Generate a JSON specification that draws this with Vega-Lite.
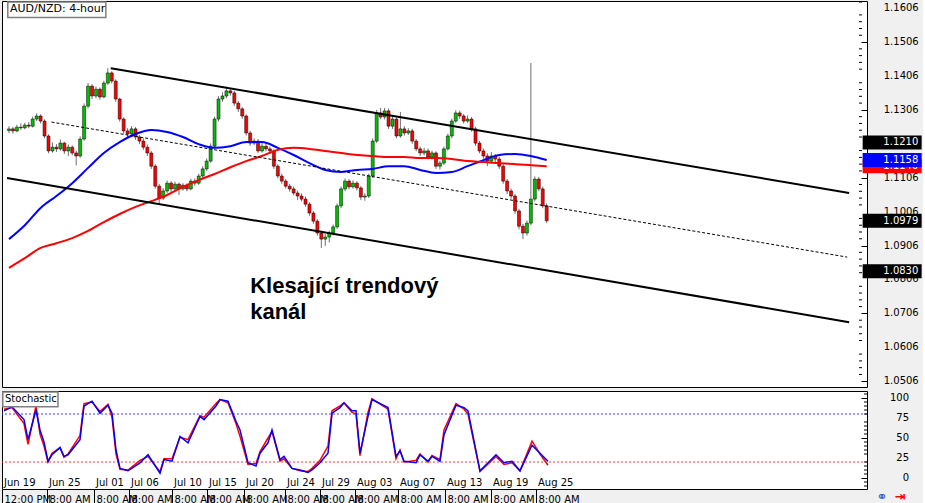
{
"$schema":"https://vega.github.io/schema/vega-lite/v6.json",
"background":"#f0f0f0",
"padding":0,
"autosize":{"type":"pad"},
"spacing":2,
"config":{"view":{"stroke":"#000000","fill":"#ffffff","strokeWidth":1},"font":"DejaVu Sans","axis":{"labelFont":"DejaVu Sans","labelFontSize":10,"labelColor":"#000000","grid":false,"domain":false,"tickColor":"#000000","labelOverlap":false}},
"datasets":{
"candles":[
{"i":0,"o":1.1245,"h":1.1258,"l":1.1238,"c":1.1250},
{"i":1,"o":1.1250,"h":1.1256,"l":1.1236,"c":1.1244},
{"i":2,"o":1.1244,"h":1.1262,"l":1.1240,"c":1.1255},
{"i":3,"o":1.1255,"h":1.1266,"l":1.1247,"c":1.1253},
{"i":4,"o":1.1253,"h":1.1268,"l":1.1249,"c":1.1261},
{"i":5,"o":1.1261,"h":1.1270,"l":1.1252,"c":1.1258},
{"i":6,"o":1.1258,"h":1.1286,"l":1.1254,"c":1.1279},
{"i":7,"o":1.1279,"h":1.1296,"l":1.1273,"c":1.1288},
{"i":8,"o":1.1288,"h":1.1293,"l":1.1266,"c":1.1273},
{"i":9,"o":1.1273,"h":1.1278,"l":1.1222,"c":1.1229},
{"i":10,"o":1.1229,"h":1.1234,"l":1.1178,"c":1.1185},
{"i":11,"o":1.1185,"h":1.1210,"l":1.1180,"c":1.1196},
{"i":12,"o":1.1196,"h":1.1205,"l":1.1182,"c":1.1191},
{"i":13,"o":1.1191,"h":1.1219,"l":1.1186,"c":1.1208},
{"i":14,"o":1.1208,"h":1.1212,"l":1.1176,"c":1.1185},
{"i":15,"o":1.1185,"h":1.1204,"l":1.1170,"c":1.1196},
{"i":16,"o":1.1196,"h":1.1201,"l":1.1172,"c":1.1179},
{"i":17,"o":1.1179,"h":1.1186,"l":1.1142,"c":1.1170},
{"i":18,"o":1.1170,"h":1.1228,"l":1.1165,"c":1.1220},
{"i":19,"o":1.1220,"h":1.1325,"l":1.1215,"c":1.1317},
{"i":20,"o":1.1317,"h":1.1385,"l":1.1310,"c":1.1376},
{"i":21,"o":1.1376,"h":1.1382,"l":1.1338,"c":1.1347},
{"i":22,"o":1.1347,"h":1.1375,"l":1.1340,"c":1.1367},
{"i":23,"o":1.1367,"h":1.1372,"l":1.1336,"c":1.1344},
{"i":24,"o":1.1344,"h":1.1392,"l":1.1340,"c":1.1385},
{"i":25,"o":1.1385,"h":1.1429,"l":1.1380,"c":1.1415},
{"i":26,"o":1.1415,"h":1.1420,"l":1.1384,"c":1.1391},
{"i":27,"o":1.1391,"h":1.1396,"l":1.1330,"c":1.1338},
{"i":28,"o":1.1338,"h":1.1342,"l":1.1272,"c":1.1279},
{"i":29,"o":1.1279,"h":1.1284,"l":1.1236,"c":1.1244},
{"i":30,"o":1.1244,"h":1.1252,"l":1.1226,"c":1.1235},
{"i":31,"o":1.1235,"h":1.1258,"l":1.1228,"c":1.1250},
{"i":32,"o":1.1250,"h":1.1255,"l":1.1218,"c":1.1226},
{"i":33,"o":1.1226,"h":1.1232,"l":1.1205,"c":1.1214},
{"i":34,"o":1.1214,"h":1.1222,"l":1.1188,"c":1.1196},
{"i":35,"o":1.1196,"h":1.1204,"l":1.1170,"c":1.1179},
{"i":36,"o":1.1179,"h":1.1185,"l":1.1132,"c":1.1140},
{"i":37,"o":1.1140,"h":1.1146,"l":1.1074,"c":1.1081},
{"i":38,"o":1.1081,"h":1.1088,"l":1.1028,"c":1.1046},
{"i":39,"o":1.1046,"h":1.1075,"l":1.1040,"c":1.1067},
{"i":40,"o":1.1067,"h":1.1098,"l":1.1060,"c":1.1090},
{"i":41,"o":1.1090,"h":1.1096,"l":1.1064,"c":1.1073},
{"i":42,"o":1.1073,"h":1.1094,"l":1.1066,"c":1.1087},
{"i":43,"o":1.1087,"h":1.1092,"l":1.1055,"c":1.1073},
{"i":44,"o":1.1073,"h":1.1090,"l":1.1068,"c":1.1084},
{"i":45,"o":1.1084,"h":1.1089,"l":1.1066,"c":1.1073},
{"i":46,"o":1.1073,"h":1.1103,"l":1.1069,"c":1.1096},
{"i":47,"o":1.1096,"h":1.1104,"l":1.1082,"c":1.1090},
{"i":48,"o":1.1090,"h":1.1118,"l":1.1085,"c":1.1111},
{"i":49,"o":1.1111,"h":1.1140,"l":1.1106,"c":1.1132},
{"i":50,"o":1.1132,"h":1.1163,"l":1.1126,"c":1.1155},
{"i":51,"o":1.1155,"h":1.1207,"l":1.1150,"c":1.1199},
{"i":52,"o":1.1199,"h":1.1286,"l":1.1194,"c":1.1279},
{"i":53,"o":1.1279,"h":1.1346,"l":1.1272,"c":1.1338},
{"i":54,"o":1.1338,"h":1.1358,"l":1.1330,"c":1.1347},
{"i":55,"o":1.1347,"h":1.1375,"l":1.1340,"c":1.1362},
{"i":56,"o":1.1362,"h":1.1368,"l":1.1348,"c":1.1356},
{"i":57,"o":1.1356,"h":1.1362,"l":1.1318,"c":1.1326},
{"i":58,"o":1.1326,"h":1.1332,"l":1.1300,"c":1.1309},
{"i":59,"o":1.1309,"h":1.1314,"l":1.1280,"c":1.1288},
{"i":60,"o":1.1288,"h":1.1293,"l":1.1230,"c":1.1238},
{"i":61,"o":1.1238,"h":1.1244,"l":1.1200,"c":1.1208},
{"i":62,"o":1.1208,"h":1.1222,"l":1.1202,"c":1.1214},
{"i":63,"o":1.1214,"h":1.1220,"l":1.1178,"c":1.1185},
{"i":64,"o":1.1185,"h":1.1210,"l":1.1180,"c":1.1199},
{"i":65,"o":1.1199,"h":1.1206,"l":1.1184,"c":1.1191},
{"i":66,"o":1.1191,"h":1.1198,"l":1.1176,"c":1.1185},
{"i":67,"o":1.1185,"h":1.1190,"l":1.1132,"c":1.1140},
{"i":68,"o":1.1140,"h":1.1146,"l":1.1104,"c":1.1111},
{"i":69,"o":1.1111,"h":1.1118,"l":1.1088,"c":1.1096},
{"i":70,"o":1.1096,"h":1.1102,"l":1.1074,"c":1.1081},
{"i":71,"o":1.1081,"h":1.1088,"l":1.1065,"c":1.1073},
{"i":72,"o":1.1073,"h":1.1080,"l":1.1054,"c":1.1061},
{"i":73,"o":1.1061,"h":1.1068,"l":1.1040,"c":1.1052},
{"i":74,"o":1.1052,"h":1.1060,"l":1.1036,"c":1.1043},
{"i":75,"o":1.1043,"h":1.1050,"l":1.1020,"c":1.1028},
{"i":76,"o":1.1028,"h":1.1034,"l":1.0994,"c":1.1002},
{"i":77,"o":1.1002,"h":1.1008,"l":1.0970,"c":1.0978},
{"i":78,"o":1.0978,"h":1.0984,"l":1.0935,"c":1.0943},
{"i":79,"o":1.0943,"h":1.0950,"l":1.0899,"c":1.0925},
{"i":80,"o":1.0925,"h":1.0940,"l":1.0905,"c":1.0931},
{"i":81,"o":1.0931,"h":1.0950,"l":1.0915,"c":1.0943},
{"i":82,"o":1.0943,"h":1.0968,"l":1.0936,"c":1.0961},
{"i":83,"o":1.0961,"h":1.1030,"l":1.0955,"c":1.1023},
{"i":84,"o":1.1023,"h":1.1080,"l":1.1016,"c":1.1073},
{"i":85,"o":1.1073,"h":1.1104,"l":1.1066,"c":1.1096},
{"i":86,"o":1.1096,"h":1.1102,"l":1.1072,"c":1.1079},
{"i":87,"o":1.1079,"h":1.1098,"l":1.1074,"c":1.1090},
{"i":88,"o":1.1090,"h":1.1096,"l":1.1068,"c":1.1076},
{"i":89,"o":1.1076,"h":1.1082,"l":1.1040,"c":1.1049},
{"i":90,"o":1.1049,"h":1.1060,"l":1.1038,"c":1.1052},
{"i":91,"o":1.1052,"h":1.1118,"l":1.1046,"c":1.1111},
{"i":92,"o":1.1111,"h":1.1222,"l":1.1105,"c":1.1214},
{"i":93,"o":1.1214,"h":1.1306,"l":1.1208,"c":1.1297},
{"i":94,"o":1.1297,"h":1.1312,"l":1.1278,"c":1.1285},
{"i":95,"o":1.1285,"h":1.1312,"l":1.1278,"c":1.1303},
{"i":96,"o":1.1303,"h":1.1310,"l":1.1250,"c":1.1258},
{"i":97,"o":1.1258,"h":1.1288,"l":1.1250,"c":1.1279},
{"i":98,"o":1.1279,"h":1.1284,"l":1.1222,"c":1.1229},
{"i":99,"o":1.1229,"h":1.1300,"l":1.1224,"c":1.1250},
{"i":100,"o":1.1250,"h":1.1258,"l":1.1230,"c":1.1238},
{"i":101,"o":1.1238,"h":1.1252,"l":1.1232,"c":1.1244},
{"i":102,"o":1.1244,"h":1.1250,"l":1.1206,"c":1.1214},
{"i":103,"o":1.1214,"h":1.1220,"l":1.1184,"c":1.1191},
{"i":104,"o":1.1191,"h":1.1198,"l":1.1170,"c":1.1179},
{"i":105,"o":1.1179,"h":1.1194,"l":1.1172,"c":1.1185},
{"i":106,"o":1.1185,"h":1.1192,"l":1.1160,"c":1.1167},
{"i":107,"o":1.1167,"h":1.1186,"l":1.1160,"c":1.1179},
{"i":108,"o":1.1179,"h":1.1184,"l":1.1132,"c":1.1140},
{"i":109,"o":1.1140,"h":1.1156,"l":1.1130,"c":1.1149},
{"i":110,"o":1.1149,"h":1.1198,"l":1.1144,"c":1.1191},
{"i":111,"o":1.1191,"h":1.1236,"l":1.1186,"c":1.1229},
{"i":112,"o":1.1229,"h":1.1280,"l":1.1222,"c":1.1273},
{"i":113,"o":1.1273,"h":1.1305,"l":1.1268,"c":1.1297},
{"i":114,"o":1.1297,"h":1.1304,"l":1.1280,"c":1.1288},
{"i":115,"o":1.1288,"h":1.1294,"l":1.1266,"c":1.1273},
{"i":116,"o":1.1273,"h":1.1290,"l":1.1268,"c":1.1279},
{"i":117,"o":1.1279,"h":1.1285,"l":1.1242,"c":1.1250},
{"i":118,"o":1.1250,"h":1.1256,"l":1.1200,"c":1.1208},
{"i":119,"o":1.1208,"h":1.1214,"l":1.1178,"c":1.1185},
{"i":120,"o":1.1185,"h":1.1192,"l":1.1162,"c":1.1170},
{"i":121,"o":1.1170,"h":1.1178,"l":1.1140,"c":1.1155},
{"i":122,"o":1.1155,"h":1.1182,"l":1.1148,"c":1.1170},
{"i":123,"o":1.1170,"h":1.1176,"l":1.1150,"c":1.1161},
{"i":124,"o":1.1161,"h":1.1168,"l":1.1132,"c":1.1140},
{"i":125,"o":1.1140,"h":1.1146,"l":1.1088,"c":1.1096},
{"i":126,"o":1.1096,"h":1.1102,"l":1.1058,"c":1.1067},
{"i":127,"o":1.1067,"h":1.1074,"l":1.1044,"c":1.1052},
{"i":128,"o":1.1052,"h":1.1058,"l":1.1000,"c":1.1008},
{"i":129,"o":1.1008,"h":1.1014,"l":1.0954,"c":1.0963},
{"i":130,"o":1.0963,"h":1.0970,"l":1.0925,"c":1.0943},
{"i":131,"o":1.0943,"h":1.0980,"l":1.0935,"c":1.0972},
{"i":132,"o":1.0972,"h":1.1444,"l":1.0966,"c":1.1043},
{"i":133,"o":1.1043,"h":1.1110,"l":1.1036,"c":1.1102},
{"i":134,"o":1.1102,"h":1.1108,"l":1.1066,"c":1.1073},
{"i":135,"o":1.1073,"h":1.1080,"l":1.1016,"c":1.1023},
{"i":136,"o":1.1023,"h":1.1030,"l":1.0972,"c":1.0979}
],
"ma":[
{"i":0,"b":1.0925,"r":1.0840},{"i":4,"b":1.0966,"r":1.0869},{"i":8,"b":1.1017,"r":1.0899},{"i":12,"b":1.1052,"r":1.0913},
{"i":16,"b":1.1090,"r":1.0928},{"i":20,"b":1.1135,"r":1.0949},{"i":24,"b":1.1179,"r":1.0975},{"i":28,"b":1.1211,"r":1.0999},
{"i":32,"b":1.1235,"r":1.1020},{"i":36,"b":1.1247,"r":1.1037},{"i":40,"b":1.1241,"r":1.1055},{"i":44,"b":1.1226,"r":1.1079},
{"i":48,"b":1.1205,"r":1.1099},{"i":52,"b":1.1194,"r":1.1117},{"i":56,"b":1.1199,"r":1.1137},{"i":60,"b":1.1211,"r":1.1155},
{"i":64,"b":1.1211,"r":1.1170},{"i":68,"b":1.1194,"r":1.1188},{"i":72,"b":1.1173,"r":1.1194},{"i":76,"b":1.1149,"r":1.1191},
{"i":80,"b":1.1129,"r":1.1185},{"i":84,"b":1.1123,"r":1.1179},{"i":88,"b":1.1129,"r":1.1173},{"i":92,"b":1.1132,"r":1.1170},
{"i":96,"b":1.1140,"r":1.1167},{"i":100,"b":1.1140,"r":1.1167},{"i":104,"b":1.1129,"r":1.1164},{"i":108,"b":1.1120,"r":1.1164},
{"i":112,"b":1.1123,"r":1.1161},{"i":116,"b":1.1140,"r":1.1155},{"i":120,"b":1.1158,"r":1.1152},{"i":124,"b":1.1173,"r":1.1149},
{"i":128,"b":1.1176,"r":1.1146},{"i":132,"b":1.1170,"r":1.1143},{"i":136,"b":1.1158,"r":1.1140}
],
"chan":[{"g":"u","i":25.75,"p":1.1429},{"g":"u","i":212.5,"p":1.1061},{"g":"l","i":-0.5,"p":1.1105},{"g":"l","i":212.5,"p":1.0680}],
"mid":[{"i":10.75,"p":1.1270},{"i":212,"p":1.0872}],
"tags":[{"kind":"ma200","p":1.1140,"label":"1.1140"},{"kind":"ma100","p":1.1158,"label":"1.1158"},{"kind":"line","p":1.1210,"label":"1.1210"},{"kind":"line","p":1.0979,"label":"1.0979"},{"kind":"line","p":1.0830,"label":"1.0830"}],
"pmajor":[{"v":1.0506},{"v":1.0606},{"v":1.0706},{"v":1.0806},{"v":1.0906},{"v":1.1006},{"v":1.1106},{"v":1.1206},{"v":1.1306},{"v":1.1406},{"v":1.1506},{"v":1.1606}],
"pminor":[{"v":1.0526},{"v":1.0546},{"v":1.0566},{"v":1.0586},{"v":1.0626},{"v":1.0646},{"v":1.0666},{"v":1.0686},{"v":1.0726},{"v":1.0746},{"v":1.0766},{"v":1.0786},{"v":1.0826},{"v":1.0846},{"v":1.0866},{"v":1.0886},{"v":1.0926},{"v":1.0946},{"v":1.0966},{"v":1.0986},{"v":1.1026},{"v":1.1046},{"v":1.1066},{"v":1.1086},{"v":1.1126},{"v":1.1146},{"v":1.1166},{"v":1.1186},{"v":1.1226},{"v":1.1246},{"v":1.1266},{"v":1.1286},{"v":1.1326},{"v":1.1346},{"v":1.1366},{"v":1.1386},{"v":1.1426},{"v":1.1446},{"v":1.1466},{"v":1.1486},{"v":1.1526},{"v":1.1546},{"v":1.1566},{"v":1.1586},{"v":1.1624}],
"smajor":[{"v":0},{"v":25},{"v":50},{"v":75},{"v":100}],
"sminor":[{"v":5},{"v":10},{"v":15},{"v":20},{"v":30},{"v":35},{"v":40},{"v":45},{"v":55},{"v":60},{"v":65},{"v":70},{"v":80},{"v":85},{"v":90},{"v":95},{"v":-5},{"v":-10},{"v":105}],
"stoch":[
{"i":0,"k":86,"d":84},{"i":2,"k":88,"d":89},{"i":5,"k":68,"d":73},{"i":6,"k":42,"d":48},{"i":8,"k":90,"d":85},{"i":9,"k":55,"d":60},
{"i":10,"k":40,"d":45},{"i":11,"k":20,"d":21},{"i":12,"k":31,"d":29},{"i":14,"k":38,"d":38},{"i":15,"k":26,"d":27},{"i":16,"k":30,"d":29},
{"i":19,"k":53,"d":48},{"i":20,"k":93,"d":90},{"i":22,"k":95,"d":96},{"i":24,"k":83,"d":81},{"i":26,"k":92,"d":91},{"i":27,"k":76,"d":81},
{"i":28,"k":30,"d":35},{"i":29,"k":11,"d":12},{"i":31,"k":10,"d":9},{"i":34,"k":22,"d":19},{"i":36,"k":27,"d":29},{"i":39,"k":8,"d":6},
{"i":40,"k":24,"d":23},{"i":42,"k":24,"d":21},{"i":44,"k":51,"d":52},{"i":46,"k":48,"d":44},{"i":49,"k":78,"d":77},{"i":50,"k":76,"d":73},
{"i":53,"k":93,"d":90},{"i":54,"k":98,"d":98},{"i":56,"k":94,"d":96},{"i":58,"k":68,"d":71},{"i":59,"k":52,"d":60},{"i":61,"k":17,"d":19},
{"i":63,"k":18,"d":15},{"i":64,"k":33,"d":31},{"i":66,"k":50,"d":44},{"i":67,"k":58,"d":60},{"i":69,"k":21,"d":23},{"i":70,"k":24,"d":27},
{"i":72,"k":12,"d":12},{"i":74,"k":9,"d":10},{"i":76,"k":8,"d":7},{"i":77,"k":12,"d":10},{"i":79,"k":22,"d":19},{"i":81,"k":40,"d":31},
{"i":82,"k":84,"d":81},{"i":84,"k":90,"d":88},{"i":85,"k":94,"d":94},{"i":87,"k":82,"d":84},{"i":88,"k":80,"d":84},{"i":89,"k":28,"d":31},
{"i":91,"k":82,"d":77},{"i":92,"k":99,"d":98},{"i":96,"k":86,"d":88},{"i":98,"k":24,"d":27},{"i":99,"k":35,"d":34},{"i":100,"k":20,"d":21},
{"i":103,"k":22,"d":19},{"i":104,"k":30,"d":29},{"i":106,"k":20,"d":21},{"i":107,"k":28,"d":27},{"i":109,"k":23,"d":21},{"i":110,"k":60,"d":54},
{"i":113,"k":93,"d":91},{"i":115,"k":86,"d":88},{"i":116,"k":80,"d":84},{"i":119,"k":8,"d":9},{"i":123,"k":27,"d":29},{"i":125,"k":17,"d":19},
{"i":127,"k":19,"d":21},{"i":129,"k":9,"d":9},{"i":132,"k":46,"d":41},{"i":134,"k":30,"d":31},{"i":136,"k":16,"d":21}
],
"levels":[{"v":80,"g":"hi"},{"v":20,"g":"lo"}],
"dates":[{"i":-0.5,"lab":"Jun 19"},{"i":10.75,"lab":"Jun 25"},{"i":22.5,"lab":"Jul 01"},{"i":31.25,"lab":"Jul 06"},{"i":42,"lab":"Jul 10"},{"i":50.75,"lab":"Jul 15"},{"i":60,"lab":"Jul 20"},{"i":70.25,"lab":"Jul 24"},{"i":79,"lab":"Jul 29"},{"i":87.75,"lab":"Aug 03"},{"i":98.5,"lab":"Aug 07"},{"i":110.25,"lab":"Aug 13"},{"i":121.75,"lab":"Aug 19"},{"i":133,"lab":"Aug 25"}],
"one":[{}]
},
"vconcat":[
{
"width":865,"height":386,
"layer":[
{"data":{"name":"candles"},"mark":{"type":"rule","color":"#707070","strokeWidth":1},
 "encoding":{"x":{"field":"i","type":"quantitative","scale":{"domain":[-0.5,215.75],"nice":false,"zero":false},"axis":null},
 "y":{"field":"l","type":"quantitative","scale":{"domain":[1.0489,1.1627],"nice":false,"zero":false},
  "axis":{"orient":"right","title":null,"labels":false,"grid":false,"domain":false,
   "values":[1.0506,1.0606,1.0706,1.0806,1.0906,1.1006,1.1106,1.1206,1.1306,1.1406,1.1506,1.1606],
   "tickSize":-6,"tickColor":"#000000"}},
 "y2":{"field":"h"}}},
{"data":{"name":"pmajor"},"mark":{"type":"text","align":"left","baseline":"middle","font":"DejaVu Sans","fontSize":10,"color":"#000000"},
 "encoding":{"x":{"datum":221.25},"y":{"field":"v","type":"quantitative"},"text":{"field":"v","type":"quantitative","format":".4f"}}},
{"data":{"name":"candles"},"mark":{"type":"bar","size":3,"stroke":"#000000","strokeWidth":0.5},
 "encoding":{"x":{"field":"i","type":"quantitative"},"y":{"field":"o","type":"quantitative"},"y2":{"field":"c"},
 "color":{"condition":{"test":"datum.c >= datum.o","value":"#00c000"},"value":"#ff0000"}}},
{"data":{"name":"ma"},"mark":{"type":"line","color":"#0000ff","strokeWidth":2,"interpolate":"monotone"},
 "encoding":{"x":{"field":"i","type":"quantitative"},"y":{"field":"b","type":"quantitative"}}},
{"data":{"name":"ma"},"mark":{"type":"line","color":"#ff0000","strokeWidth":2,"interpolate":"monotone"},
 "encoding":{"x":{"field":"i","type":"quantitative"},"y":{"field":"r","type":"quantitative"}}},
{"data":{"name":"chan"},"mark":{"type":"line","color":"#000000","strokeWidth":2},
 "encoding":{"x":{"field":"i","type":"quantitative"},"y":{"field":"p","type":"quantitative"},"detail":{"field":"g"}}},
{"data":{"name":"mid"},"mark":{"type":"line","color":"#000000","strokeWidth":1,"strokeDash":[3,2]},
 "encoding":{"x":{"field":"i","type":"quantitative"},"y":{"field":"p","type":"quantitative"}}},
{"data":{"name":"pminor"},"mark":{"type":"tick","orient":"horizontal","size":3,"thickness":1,"color":"#000000","opacity":1},
 "encoding":{"x":{"datum":215.375},"y":{"field":"v","type":"quantitative"}}},
{"data":{"name":"one"},"mark":{"type":"rect","fill":"#ffffff","stroke":"#808080","strokeWidth":1.5},
 "encoding":{"x":{"datum":-0.3},"x2":{"datum":24.5},"y":{"datum":1.1624},"y2":{"datum":1.1578}}},
{"data":{"name":"one"},"mark":{"type":"text","text":"AUD/NZD: 4-hour","align":"left","baseline":"middle","font":"DejaVu Sans","fontSize":11,"color":"#000000"},
 "encoding":{"x":{"datum":0.25},"y":{"datum":1.1602}}},
{"data":{"name":"one"},"mark":{"type":"text","text":["Klesající trendový","kanál"],"lineHeight":26,"align":"left","baseline":"alphabetic","font":"Liberation Sans","fontSize":22,"fontWeight":"bold","color":"#000000"},
 "encoding":{"x":{"datum":61},"y":{"datum":1.0766}}},
{"data":{"name":"tags"},"transform":[{"filter":"datum.kind == 'ma200'"}],"mark":{"type":"tick","orient":"horizontal","size":59,"thickness":14,"color":"#ff0000","opacity":1},
 "encoding":{"x":{"datum":223.375},"y":{"field":"p","type":"quantitative"}}},
{"data":{"name":"tags"},"transform":[{"filter":"datum.kind == 'ma200'"}],"mark":{"type":"text","align":"right","baseline":"middle","color":"#ffffff","fontSize":10,"font":"DejaVu Sans"},
 "encoding":{"x":{"datum":230},"y":{"field":"p","type":"quantitative"},"text":{"field":"label"}}},
{"data":{"name":"tags"},"transform":[{"filter":"datum.kind == 'ma100'"}],"mark":{"type":"tick","orient":"horizontal","size":59,"thickness":14,"color":"#0000ff","opacity":1},
 "encoding":{"x":{"datum":223.375},"y":{"field":"p","type":"quantitative"}}},
{"data":{"name":"tags"},"transform":[{"filter":"datum.kind == 'ma100'"}],"mark":{"type":"text","align":"right","baseline":"middle","color":"#ffffff","fontSize":10,"font":"DejaVu Sans"},
 "encoding":{"x":{"datum":230},"y":{"field":"p","type":"quantitative"},"text":{"field":"label"}}},
{"data":{"name":"tags"},"transform":[{"filter":"datum.kind == 'line'"}],"mark":{"type":"tick","orient":"horizontal","size":59,"thickness":14,"color":"#000000","opacity":1},
 "encoding":{"x":{"datum":223.375},"y":{"field":"p","type":"quantitative"}}},
{"data":{"name":"tags"},"transform":[{"filter":"datum.kind == 'line'"}],"mark":{"type":"text","align":"right","baseline":"middle","color":"#ffffff","fontSize":10,"font":"DejaVu Sans"},
 "encoding":{"x":{"datum":230},"y":{"field":"p","type":"quantitative"},"text":{"field":"label"}}}
]
},
{
"width":865,"height":98,
"layer":[
{"data":{"name":"levels"},"mark":{"type":"rule","strokeWidth":1.2,"strokeDash":[2,2]},
 "encoding":{"y":{"field":"v","type":"quantitative","scale":{"domain":[-13.75,108.75],"nice":false,"zero":false},
  "axis":{"orient":"right","title":null,"labels":false,"grid":false,"domain":false,
   "values":[0,25,50,75,100],"tickSize":-6,"tickColor":"#000000"}},
  "color":{"field":"g","type":"nominal","scale":{"domain":["hi","lo"],"range":["#4040ff","#f04040"]},"legend":null}}},
{"data":{"name":"sminor"},"mark":{"type":"tick","orient":"horizontal","size":3,"thickness":1,"color":"#000000","opacity":1},
 "encoding":{"x":{"datum":215.375,"scale":{"domain":[-0.5,215.75],"nice":false,"zero":false}},"y":{"field":"v","type":"quantitative"}}},
{"data":{"name":"smajor"},"mark":{"type":"text","align":"right","baseline":"middle","font":"DejaVu Sans","fontSize":10,"color":"#000000"},
 "encoding":{"x":{"datum":226.25},"y":{"field":"v","type":"quantitative"},"text":{"field":"v","type":"quantitative","format":"d"}}},
{"data":{"name":"stoch"},"mark":{"type":"line","color":"#ff0000","strokeWidth":1.5},
 "encoding":{"x":{"field":"i","type":"quantitative","scale":{"domain":[-0.5,215.75],"nice":false,"zero":false},
  "axis":{"orient":"bottom","title":null,"grid":false,"domain":false,"labelOverlap":false,"labelBound":false,"labelFlush":false,
   "values":[-0.5,10.75,22.5,31.25,42,50.75,60,70.25,79,87.75,98.5,110.25,121.75,133],
   "labelExpr":"datum.value < 0 ? '12:00 PM' : '8:00 AM'",
   "tickSize":17,"tickColor":"#000000","labelAlign":"left","labelBaseline":"top","labelPadding":-12,"labelOffset":2,"labelFontSize":10,"labelColor":"#000000"}},
  "y":{"field":"k","type":"quantitative"}}},
{"data":{"name":"stoch"},"mark":{"type":"line","color":"#0000ff","strokeWidth":1.5},
 "encoding":{"x":{"field":"i","type":"quantitative"},"y":{"field":"d","type":"quantitative"}}},
{"data":{"name":"dates"},"mark":{"type":"text","align":"left","baseline":"middle","dx":2,"fontSize":10,"font":"DejaVu Sans","color":"#000000"},
 "encoding":{"x":{"field":"i","type":"quantitative"},"y":{"datum":-6.25},"text":{"field":"lab"}}},
{"data":{"name":"one"},"mark":{"type":"rect","fill":"#ffffff","stroke":"#808080","strokeWidth":1.5},
 "encoding":{"x":{"datum":-0.3},"x2":{"datum":13.5},"y":{"datum":107.5},"y2":{"datum":89}}},
{"data":{"name":"one"},"mark":{"type":"text","text":"Stochastic","align":"left","baseline":"middle","font":"DejaVu Sans","fontSize":10,"color":"#000000"},
 "encoding":{"x":{"datum":0.25},"y":{"datum":98.5}}},
{"data":{"name":"one"},"mark":{"type":"text","text":"⚭","align":"center","baseline":"middle","font":"DejaVu Sans","fontSize":13,"fontWeight":"bold","color":"#1060e0"},
 "encoding":{"x":{"datum":219.5},"y":{"datum":-23.5}}},
{"data":{"name":"one"},"mark":{"type":"text","text":"⇥","align":"center","baseline":"middle","font":"DejaVu Sans","fontSize":13,"fontWeight":"bold","color":"#ff0000"},
 "encoding":{"x":{"datum":224},"y":{"datum":-23.5}}}
]
}
]
}
